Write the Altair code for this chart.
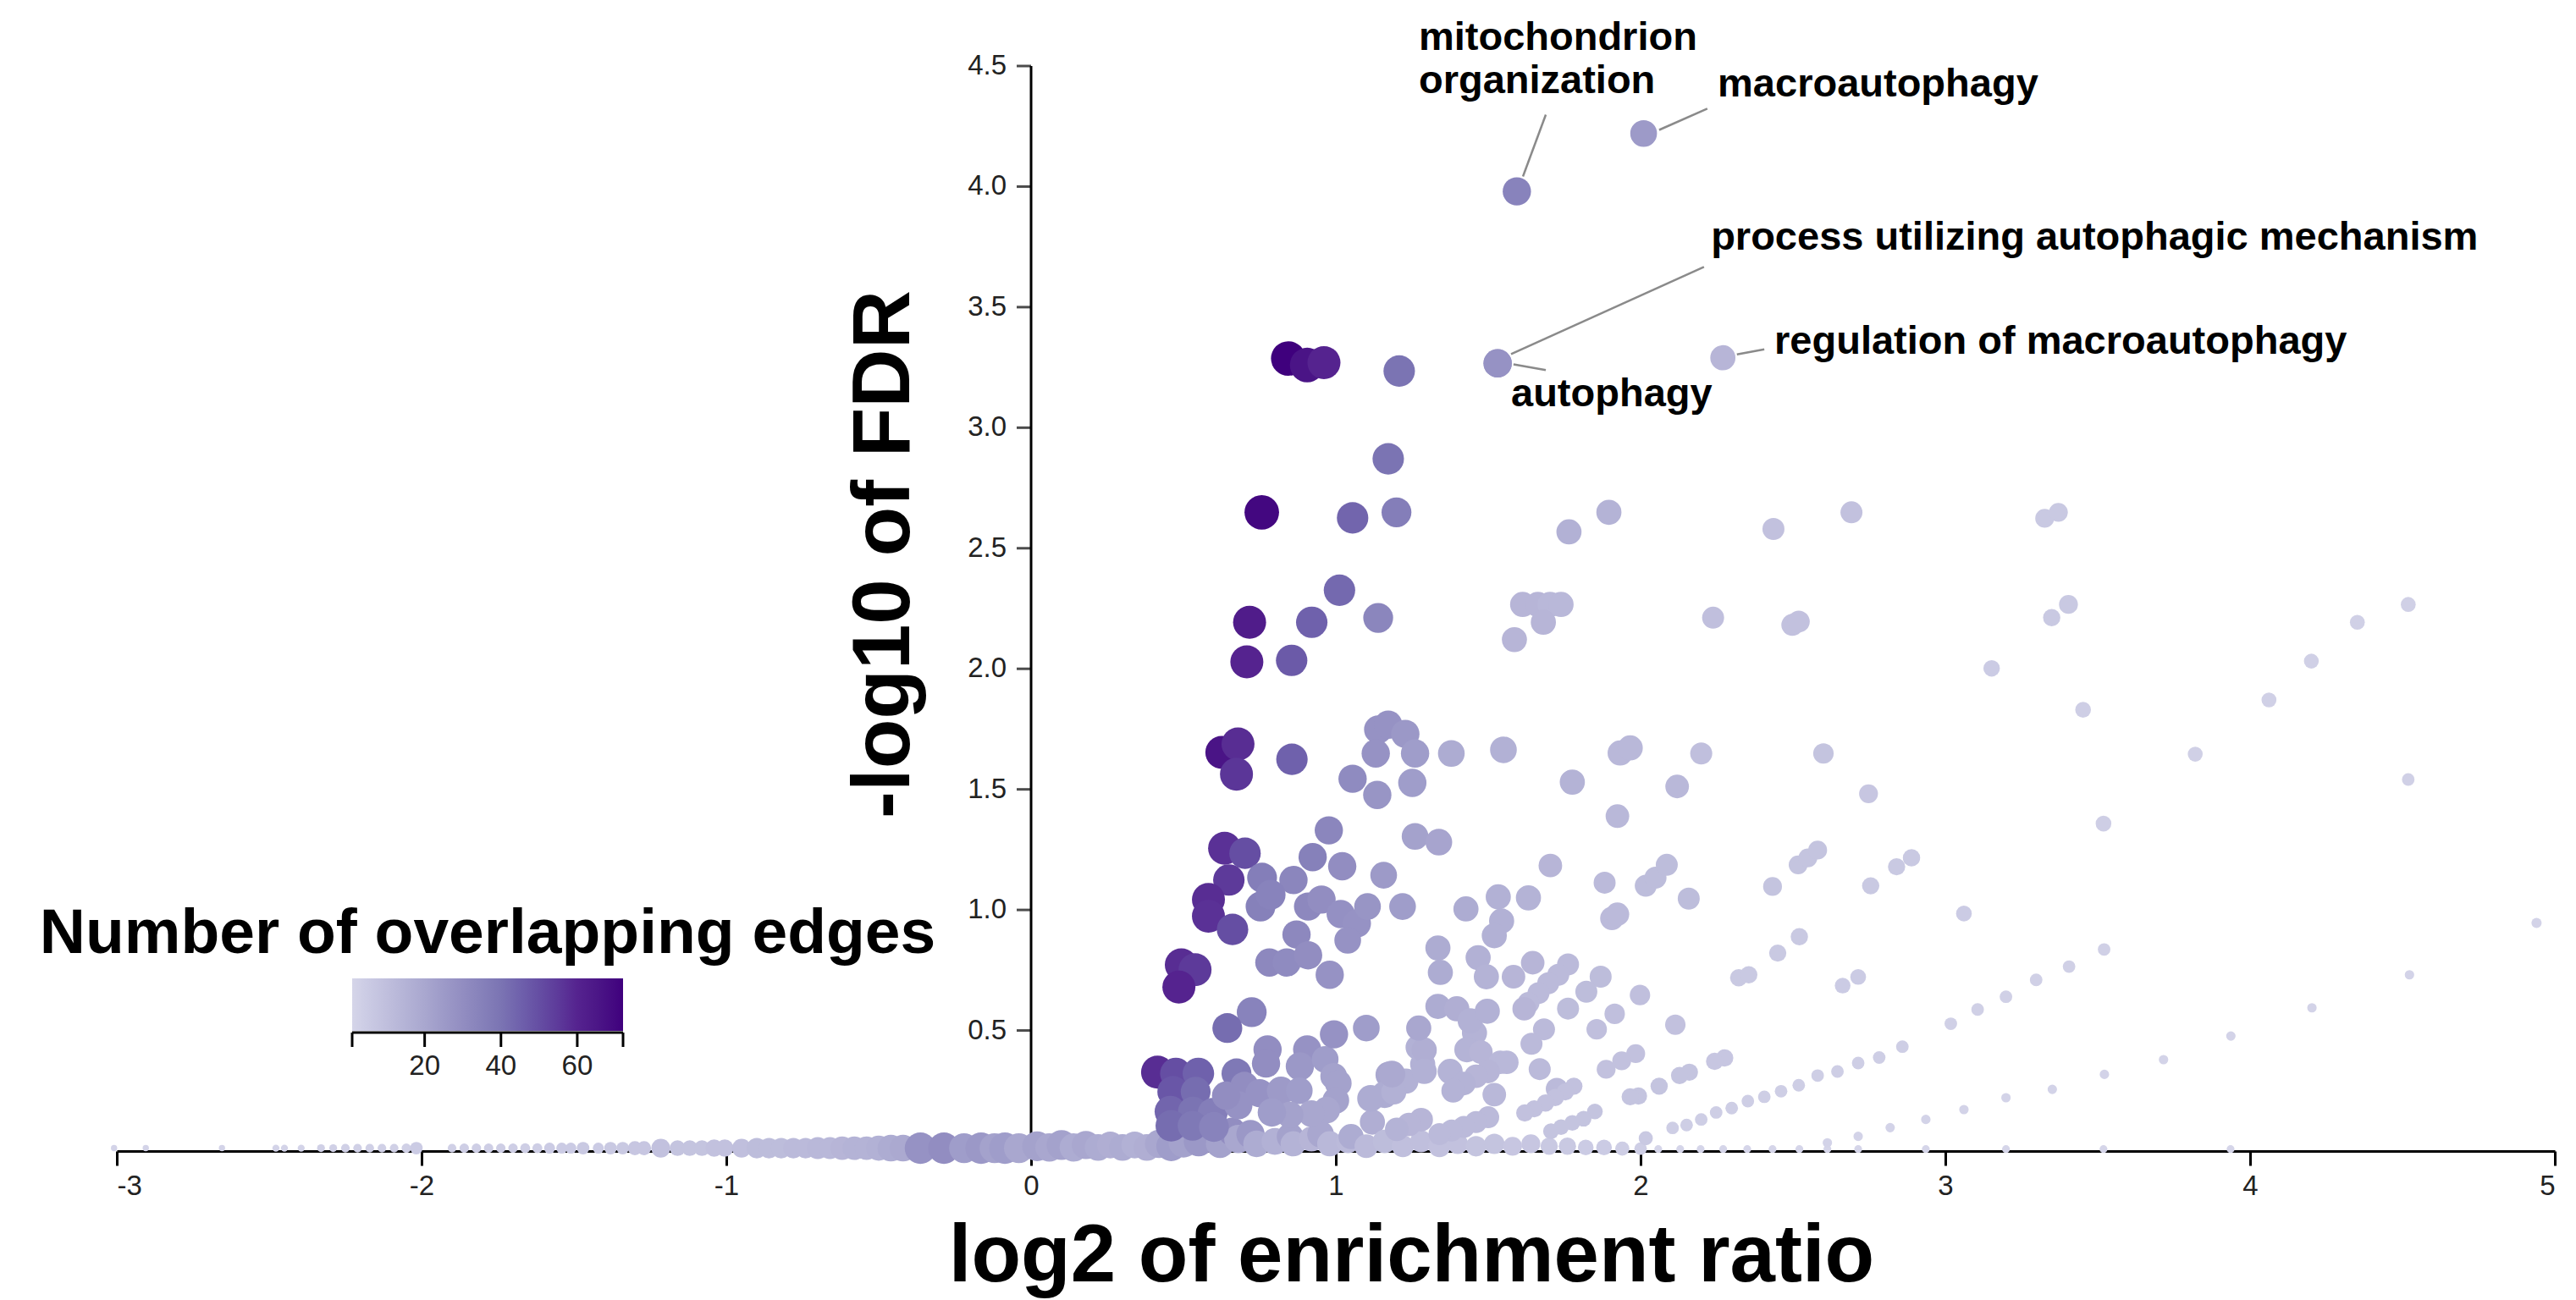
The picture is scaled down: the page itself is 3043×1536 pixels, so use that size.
import altair as alt
import pandas as pd

# Each term: (log2 enrichment ratio, -log10 FDR, overlapping edges, gene set size)
upper_terms = [
    (0.844, 3.287, 72, 484), (0.906, 3.260, 66, 484), (0.961, 3.270, 60, 441),
    (1.208, 3.235, 40, 400),
    (1.531, 3.267, 28, 324),  # autophagy
    (1.531, 3.267, 28, 324),  # process utilizing autophagic mechanism
    (1.594, 3.980, 34, 324),  # mitochondrion organization
    (2.010, 4.220, 25, 289),  # macroautophagy
    (2.270, 3.290, 14, 256),  # regulation of macroautophagy
    (1.172, 2.871, 40, 400), (0.757, 2.649, 70, 484), (1.055, 2.626, 44, 400),
    (1.199, 2.649, 36, 361), (1.765, 2.568, 16, 256), (1.896, 2.649, 15, 256),
    (2.436, 2.580, 9, 196), (2.692, 2.649, 9, 196), (3.326, 2.624, 6, 144),
    (3.371, 2.649, 6, 144), (1.012, 2.326, 43, 400), (0.717, 2.193, 63, 441),
    (0.921, 2.193, 45, 400), (1.139, 2.211, 33, 361), (0.708, 2.029, 60, 441),
    (0.855, 2.035, 47, 400), (1.613, 2.267, 14, 256), (1.663, 2.267, 14, 256),
    (1.703, 2.267, 13, 256), (1.739, 2.267, 13, 256), (1.681, 2.193, 14, 256),
    (1.586, 2.121, 14, 256), (2.238, 2.212, 10, 196), (2.498, 2.182, 9, 196),
    (2.519, 2.196, 9, 196), (3.349, 2.212, 6, 121), (3.404, 2.267, 6, 144),
    (4.519, 2.267, 3, 90), (4.352, 2.193, 3, 90), (4.201, 2.032, 3, 90),
    (4.062, 1.871, 3, 90), (3.820, 1.646, 3, 90), (3.452, 1.830, 4, 100),
    (3.152, 2.002, 5, 110),
]

middle_terms = [
    (0.626, 1.653, 66, 441), (0.679, 1.688, 58, 441), (0.674, 1.563, 56, 441),
    (0.856, 1.625, 45, 400), (1.139, 1.748, 28, 324), (1.172, 1.768, 28, 324),
    (1.228, 1.730, 26, 324), (1.131, 1.649, 28, 324), (1.260, 1.649, 24, 324),
    (1.379, 1.649, 18, 289), (1.550, 1.664, 16, 289), (1.933, 1.651, 13, 256),
    (1.966, 1.672, 13, 256), (2.199, 1.649, 10, 196), (2.600, 1.649, 8, 169),
    (1.055, 1.544, 31, 324), (1.136, 1.477, 27, 324), (1.251, 1.527, 24, 324),
    (1.776, 1.530, 15, 256), (2.120, 1.512, 13, 225), (1.924, 1.389, 13, 225),
    (2.748, 1.482, 7, 144), (0.977, 1.330, 33, 324), (1.260, 1.305, 22, 289),
    (1.338, 1.281, 21, 289), (0.635, 1.256, 57, 441), (0.702, 1.235, 50, 400),
    (0.924, 1.219, 35, 324), (0.649, 1.124, 55, 400), (0.758, 1.134, 36, 361),
    (0.861, 1.124, 33, 324), (1.021, 1.181, 30, 324), (1.157, 1.144, 25, 289),
    (1.704, 1.184, 14, 225), (1.882, 1.113, 12, 196), (2.017, 1.100, 11, 196),
    (2.049, 1.134, 11, 196), (2.086, 1.187, 11, 196), (2.158, 1.047, 11, 196),
    (2.433, 1.097, 8, 144), (2.517, 1.187, 8, 144), (2.549, 1.216, 8, 144),
    (2.581, 1.248, 8, 144), (2.755, 1.100, 6, 121), (2.840, 1.179, 6, 121),
    (2.889, 1.216, 6, 121), (3.061, 0.985, 5, 100), (0.582, 1.043, 58, 441),
    (0.582, 0.974, 57, 441), (0.661, 0.919, 50, 400), (0.753, 1.014, 35, 361),
    (0.786, 1.063, 34, 361), (0.909, 1.014, 32, 324), (0.953, 1.043, 30, 324),
    (1.016, 0.983, 29, 324), (1.069, 0.944, 28, 324), (1.104, 1.014, 27, 289),
    (1.219, 1.014, 24, 289), (1.039, 0.874, 28, 289), (0.871, 0.898, 32, 324),
    (1.427, 1.004, 18, 256), (1.533, 1.054, 16, 256), (1.544, 0.954, 16, 256),
    (1.520, 0.893, 16, 256), (1.632, 1.050, 15, 256), (1.906, 0.965, 12, 225),
    (1.924, 0.982, 12, 225), (0.493, 0.772, 58, 441), (0.538, 0.752, 55, 441),
    (0.485, 0.680, 60, 441), (0.782, 0.782, 32, 324), (0.839, 0.782, 31, 324),
    (0.909, 0.812, 30, 324), (0.980, 0.731, 28, 324), (1.335, 0.842, 18, 256),
    (1.343, 0.741, 18, 256), (1.467, 0.802, 16, 256), (1.494, 0.723, 15, 256),
    (1.646, 0.781, 14, 225), (1.583, 0.723, 14, 225), (1.762, 0.774, 12, 196),
    (1.730, 0.731, 12, 196), (1.697, 0.696, 12, 196), (1.665, 0.655, 12, 196),
    (1.632, 0.614, 12, 196), (1.869, 0.723, 11, 196), (1.822, 0.661, 11, 196),
    (1.762, 0.591, 11, 196), (2.322, 0.719, 6, 121), (2.355, 0.731, 6, 121),
    (2.450, 0.821, 6, 121), (2.521, 0.889, 6, 121), (2.663, 0.686, 5, 100),
    (2.714, 0.722, 5, 100), (3.018, 0.528, 3, 64), (3.106, 0.587, 3, 64),
    (3.199, 0.640, 3, 64), (3.298, 0.710, 3, 64), (3.406, 0.765, 3, 64),
    (3.521, 0.836, 3, 64), (3.519, 1.358, 4, 100), (4.519, 1.541, 3, 64),
    (4.940, 0.946, 2, 42), (4.523, 0.731, 2, 36), (0.724, 0.576, 34, 361),
    (0.644, 0.510, 42, 361), (0.994, 0.484, 28, 324), (1.100, 0.510, 24, 289),
    (1.272, 0.510, 20, 256), (1.335, 0.600, 18, 256), (1.397, 0.590, 17, 256),
    (1.441, 0.540, 16, 256), (1.497, 0.580, 16, 256), (1.618, 0.590, 14, 225),
    (1.998, 0.647, 10, 169), (1.915, 0.569, 10, 169), (1.856, 0.505, 10, 169),
    (1.683, 0.505, 12, 196), (1.642, 0.445, 12, 196), (2.114, 0.524, 9, 169),
]

lower_terms = [
    (0.415, 0.327, 58, 441), (0.475, 0.322, 50, 400), (0.549, 0.322, 45, 400),
    (0.466, 0.246, 48, 400), (0.540, 0.246, 42, 361), (0.457, 0.164, 44, 400),
    (0.531, 0.164, 40, 361), (0.596, 0.158, 36, 361), (0.460, 0.105, 42, 400),
    (0.530, 0.105, 38, 361), (0.600, 0.100, 34, 361), (0.674, 0.322, 38, 361),
    (0.776, 0.421, 30, 324), (0.771, 0.363, 30, 324), (0.906, 0.421, 28, 324),
    (0.882, 0.351, 26, 324), (0.965, 0.380, 24, 289), (0.993, 0.310, 22, 289),
    (1.008, 0.281, 22, 289), (0.700, 0.270, 30, 324), (0.750, 0.240, 28, 324),
    (0.820, 0.250, 25, 324), (0.880, 0.250, 24, 289), (1.174, 0.316, 20, 289),
    (1.160, 0.234, 18, 289), (1.114, 0.218, 18, 289), (1.000, 0.210, 22, 289),
    (0.970, 0.170, 20, 289), (0.920, 0.155, 20, 289), (0.850, 0.150, 22, 289),
    (0.790, 0.160, 24, 324), (0.680, 0.190, 28, 324), (0.640, 0.230, 30, 324),
    (1.270, 0.430, 16, 256), (1.285, 0.360, 16, 256), (1.230, 0.290, 16, 256),
    (1.190, 0.245, 16, 256), (1.290, 0.419, 17, 256), (1.290, 0.330, 16, 256),
    (1.375, 0.330, 15, 256), (1.184, 0.319, 19, 289), (1.455, 0.490, 15, 256),
    (1.430, 0.420, 15, 256), (1.476, 0.410, 14, 225), (1.540, 0.368, 13, 225),
    (1.561, 0.368, 13, 225), (1.500, 0.330, 14, 225), (1.460, 0.310, 14, 225),
    (1.420, 0.280, 15, 225), (1.385, 0.250, 15, 225), (1.520, 0.234, 13, 225),
    (1.280, 0.130, 14, 225), (1.240, 0.110, 14, 225), (1.200, 0.090, 15, 225),
    (1.500, 0.140, 12, 196), (1.460, 0.120, 12, 196), (1.420, 0.100, 12, 196),
    (1.380, 0.085, 12, 196), (1.340, 0.070, 12, 196), (1.669, 0.340, 12, 196),
    (1.725, 0.258, 12, 196), (1.984, 0.404, 9, 144), (1.938, 0.374, 9, 144),
    (1.887, 0.339, 9, 144), (2.160, 0.327, 8, 121), (2.128, 0.313, 8, 121),
    (2.061, 0.269, 8, 121), (1.993, 0.228, 8, 121), (1.966, 0.225, 8, 121),
    (2.276, 0.386, 7, 121), (2.243, 0.372, 7, 121), (1.781, 0.269, 9, 121),
    (1.753, 0.246, 9, 121), (1.720, 0.222, 9, 121), (1.688, 0.199, 9, 121),
    (1.651, 0.175, 9, 121), (1.620, 0.158, 9, 121), (1.850, 0.164, 8, 100),
    (1.813, 0.134, 8, 100), (1.776, 0.117, 8, 100), (1.739, 0.099, 8, 100),
    (1.706, 0.082, 8, 100), (2.017, 0.053, 6, 81),
    (2.105, 0.096, 4, 64), (2.151, 0.108, 4, 64), (2.199, 0.131, 4, 64),
    (2.248, 0.160, 4, 64), (2.299, 0.178, 4, 64), (2.352, 0.207, 4, 64),
    (2.406, 0.225, 4, 64), (2.461, 0.248, 4, 64), (2.519, 0.273, 4, 64),
    (2.581, 0.313, 4, 64), (2.646, 0.330, 4, 64), (2.714, 0.365, 4, 64),
    (2.783, 0.388, 4, 64), (2.859, 0.433, 4, 64),
    (2.613, 0.034, 2, 36), (2.714, 0.061, 2, 36), (2.819, 0.097, 2, 36),
    (2.936, 0.131, 2, 36), (3.061, 0.172, 2, 36), (3.199, 0.221, 2, 36),
    (3.351, 0.256, 2, 36), (3.522, 0.318, 2, 36), (3.716, 0.379, 2, 36),
    (3.937, 0.477, 2, 36), (4.203, 0.594, 2, 36),
]

baseline_terms = [
    (0.020, 0.020, 22, 361), (0.060, 0.015, 20, 324), (0.100, 0.025, 22, 361),
    (0.140, 0.015, 18, 324), (0.180, 0.025, 20, 324), (0.220, 0.015, 18, 289),
    (0.260, 0.025, 17, 289), (0.300, 0.015, 18, 289), (0.340, 0.025, 16, 289),
    (0.380, 0.015, 17, 289), (0.420, 0.030, 20, 324), (0.460, 0.020, 24, 361),
    (0.500, 0.035, 22, 361), (0.550, 0.040, 26, 361), (0.620, 0.030, 22, 324),
    (0.660, 0.080, 30, 324), (0.680, 0.050, 20, 324), (0.720, 0.070, 26, 324),
    (0.740, 0.030, 18, 289), (0.800, 0.040, 16, 289), (0.850, 0.060, 22, 289),
    (0.860, 0.030, 15, 256), (0.920, 0.050, 14, 256), (0.950, 0.070, 20, 289),
    (0.980, 0.030, 13, 256), (1.040, 0.040, 12, 225), (1.050, 0.060, 18, 256),
    (1.100, 0.020, 12, 225), (1.120, 0.120, 17, 256), (1.160, 0.040, 11, 225),
    (1.220, 0.020, 10, 196), (1.280, 0.040, 10, 196), (1.340, 0.020, 9, 196),
    (1.400, 0.030, 9, 169), (1.460, 0.020, 8, 169), (1.520, 0.030, 8, 169),
    (1.580, 0.020, 7, 144), (1.640, 0.030, 7, 144), (1.700, 0.020, 6, 121),
    (1.760, 0.020, 6, 121), (1.820, 0.015, 5, 100), (1.880, 0.015, 5, 100),
    (1.940, 0.010, 4, 81), (2.000, 0.010, 4, 64), (2.058, 0.008, 1, 25),
    (2.130, 0.008, 1, 25), (2.197, 0.008, 1, 25), (2.271, 0.008, 1, 25),
    (2.350, 0.008, 1, 25), (2.433, 0.008, 1, 25), (2.521, 0.008, 1, 25),
    (2.613, 0.008, 1, 25), (2.714, 0.008, 1, 25), (2.936, 0.008, 1, 25),
    (3.199, 0.008, 1, 25), (3.519, 0.008, 1, 25), (3.936, 0.008, 1, 25),
]

depleted_terms = [
    (-3.009, 0.012, 2, 16), (-2.905, 0.012, 2, 16), (-2.655, 0.012, 2, 16),
    (-2.478, 0.012, 2, 20), (-2.450, 0.012, 2, 20), (-2.395, 0.012, 2, 20),
    (-2.330, 0.012, 3, 25), (-2.290, 0.012, 3, 25), (-2.250, 0.012, 3, 30),
    (-2.210, 0.012, 3, 30), (-2.170, 0.012, 3, 30), (-2.130, 0.012, 3, 30),
    (-2.090, 0.012, 3, 30), (-2.050, 0.012, 3, 36), (-2.017, 0.012, 5, 64),
    (-1.900, 0.012, 3, 30), (-1.860, 0.012, 4, 36), (-1.820, 0.012, 4, 36),
    (-1.780, 0.012, 4, 36), (-1.740, 0.012, 4, 36), (-1.700, 0.012, 4, 36),
    (-1.660, 0.012, 4, 40), (-1.620, 0.012, 4, 40), (-1.580, 0.012, 5, 49),
    (-1.540, 0.012, 5, 49), (-1.510, 0.012, 5, 49), (-1.470, 0.012, 6, 64),
    (-1.420, 0.012, 5, 49), (-1.380, 0.012, 6, 64), (-1.340, 0.012, 6, 64),
    (-1.300, 0.012, 7, 81), (-1.270, 0.012, 7, 81), (-1.215, 0.012, 9, 144),
    (-1.160, 0.012, 8, 100), (-1.120, 0.012, 8, 100), (-1.080, 0.012, 8, 100),
    (-1.040, 0.012, 9, 121), (-1.005, 0.012, 9, 121), (-0.950, 0.012, 10, 144),
    (-0.900, 0.012, 11, 169), (-0.860, 0.012, 11, 169), (-0.820, 0.012, 11, 169),
    (-0.780, 0.012, 12, 169), (-0.740, 0.012, 12, 169), (-0.700, 0.012, 13, 196),
    (-0.660, 0.012, 13, 196), (-0.620, 0.012, 14, 225), (-0.580, 0.012, 15, 225),
    (-0.540, 0.012, 15, 225), (-0.500, 0.012, 16, 256), (-0.460, 0.012, 18, 289),
    (-0.420, 0.012, 19, 289), (-0.363, 0.012, 28, 400), (-0.286, 0.012, 30, 400),
    (-0.220, 0.012, 24, 361), (-0.164, 0.012, 26, 400), (-0.120, 0.012, 22, 361),
    (-0.086, 0.012, 24, 400), (-0.040, 0.012, 20, 361),
]

# Labelled terms: text, anchor of the text, and the leader line back to the point
label_text = ["mitochondrion", "organization", "macroautophagy",
              "process utilizing autophagic mechanism", "autophagy",
              "regulation of macroautophagy"]
label_er = [1.272, 1.272, 2.253, 2.231, 1.575, 2.439]
label_fdr = [4.568, 4.386, 4.375, 3.737, 3.088, 3.305]

leader_er_from = [1.614, 2.061, 1.575, 1.583, 2.316]
leader_fdr_from = [4.042, 4.235, 3.305, 3.263, 3.304]
leader_er_to = [1.689, 2.219, 2.208, 1.689, 2.406]
leader_fdr_to = [4.298, 4.323, 3.667, 3.239, 3.325]

x_ticks = [-3, -2, -1, 0, 1, 2, 3, 4, 5]
y_ticks = [0.5, 1.0, 1.5, 2.0, 2.5, 3.0, 3.5, 4.0, 4.5]
legend_ticks = [1, 20, 40, 60, 72]
overlap_stops = [1, 20, 40, 60, 72]
overlap_colors = ["#d5d5e9", "#a9a7cf", "#7b74b3", "#55238f", "#3f007d"]

FONT = "Liberation Sans"
PLOT_W, PLOT_H = 2880, 1282
TICK_FONT = 33

cols = ["er", "fdr", "overlap", "set_size"]
terms = pd.DataFrame(depleted_terms + baseline_terms + lower_terms
                     + middle_terms + upper_terms, columns=cols)
labels = pd.DataFrame({"text": label_text, "er": label_er, "fdr": label_fdr})
leaders = pd.DataFrame({"er": leader_er_from, "fdr": leader_fdr_from,
                        "er2": leader_er_to, "fdr2": leader_fdr_to})
ticks = pd.DataFrame({"v": legend_ticks})
y_axis_ticks = pd.DataFrame({"er": [0] * len(y_ticks), "fdr": y_ticks})
y_axis_line = pd.DataFrame({"er": [0], "fdr": [0], "fdr2": [y_ticks[-1]]})

x_scale = alt.Scale(domain=[-3, 5], nice=False, zero=False)
y_scale = alt.Scale(domain=[0, 4.5], nice=False, zero=False)
X_NOAXIS = dict(scale=x_scale, axis=None)
Y_NOAXIS = dict(scale=y_scale, axis=None)

points = alt.Chart(terms).mark_circle(opacity=1).encode(
    x=alt.X("er:Q", scale=x_scale, axis=alt.Axis(
        values=x_ticks, labelExpr="'' + datum.value", grid=False,
        labelFontSize=TICK_FONT, labelColor="#222", labelPadding=8,
        tickSize=17, tickWidth=3, tickColor="black",
        domainWidth=3, domainColor="black",
        title="log2 of enrichment ratio", titleFontSize=96,
        titleFontWeight="bold", titleColor="black",
        titleX=1529, titleY=153, titleBaseline="alphabetic", titleAlign="center")),
    y=alt.Y("fdr:Q", **Y_NOAXIS),
    color=alt.Color("overlap:Q",
        scale=alt.Scale(domain=overlap_stops, range=overlap_colors),
        legend=alt.Legend(
            title="Number of overlapping edges", orient="none",
            legendX=-91, legendY=989, direction="horizontal",
            gradientLength=320, gradientThickness=62, gradientStrokeWidth=0,
            values=[20, 40, 60], labelFontSize=TICK_FONT, labelColor="#222",
            labelOffset=26, padding=0, titleFontSize=75,
            titleFontWeight="bold", titleColor="black", titleAnchor="middle",
            titlePadding=14, titleLimit=2000)),
    size=alt.Size("set_size:Q", scale=alt.Scale(domain=[0, 1000], range=[0, 3450]),
                  legend=None),
)

# y axis drawn at log2 ratio = 0
y_domain = alt.Chart(y_axis_line).mark_rule(color="black", strokeWidth=3).encode(
    x=alt.X("er:Q", **X_NOAXIS), y=alt.Y("fdr:Q", **Y_NOAXIS), y2="fdr2:Q",
)
y_tick_marks = alt.Chart(y_axis_ticks).mark_tick(
    orient="horizontal", size=17, thickness=3, color="black", xOffset=-8.5,
).encode(x=alt.X("er:Q", **X_NOAXIS), y=alt.Y("fdr:Q", **Y_NOAXIS))
y_tick_labels = alt.Chart(y_axis_ticks).mark_text(
    align="right", baseline="middle", dx=-29, fontSize=TICK_FONT, color="#222",
).encode(
    x=alt.X("er:Q", **X_NOAXIS), y=alt.Y("fdr:Q", **Y_NOAXIS),
    text=alt.Text("fdr:Q", format=".1f"),
)
y_title = alt.Chart(y_axis_line).mark_text(
    angle=270, align="center", baseline="alphabetic", fontSize=96,
    fontWeight="bold", color="black",
).encode(x=alt.value(936), y=alt.value(577), text=alt.value("-log10 of FDR"))

leader_lines = alt.Chart(leaders).mark_rule(color="#8a8a8a", strokeWidth=2.5).encode(
    x=alt.X("er:Q", **X_NOAXIS), y=alt.Y("fdr:Q", **Y_NOAXIS),
    x2="er2:Q", y2="fdr2:Q",
)

term_labels = alt.Chart(labels).mark_text(
    align="left", baseline="alphabetic", fontSize=47,
    fontWeight="bold", color="black",
).encode(
    x=alt.X("er:Q", **X_NOAXIS), y=alt.Y("fdr:Q", **Y_NOAXIS), text="text:N",
)

# Tick bar under the colour gradient, on a scale that lines up with the legend
px_left, px_right = 278, 598
span = (legend_ticks[-1] - legend_ticks[0]) / (px_right - px_left)
tick_scale = alt.Scale(domain=[legend_ticks[0] - px_left * span,
                               legend_ticks[-1] + (PLOT_W - px_right) * span],
                       nice=False, zero=False)
legend_tick_marks = alt.Chart(ticks).mark_rule(color="black", strokeWidth=3).encode(
    x=alt.X("v:Q", scale=tick_scale, axis=None),
    y=alt.value(1142), y2=alt.value(1159),
)
legend_tick_base = alt.Chart(ticks).mark_rule(color="black", strokeWidth=3).encode(
    x=alt.X("min(v):Q", scale=tick_scale, axis=None),
    x2="max(v):Q",
    y=alt.value(1142),
)

chart = alt.layer(
    y_domain, y_tick_marks, y_tick_labels, y_title,
    points, leader_lines, term_labels, legend_tick_marks, legend_tick_base,
).resolve_scale(x="independent").properties(
    width=PLOT_W, height=PLOT_H,
    autosize=alt.AutoSizeParams(type="none"),
    padding={"left": 138, "top": 78, "right": 25, "bottom": 176},
).configure(font=FONT).configure_view(stroke=None)

chart.save("out.html", embed_options={"renderer": "svg", "actions": False})
